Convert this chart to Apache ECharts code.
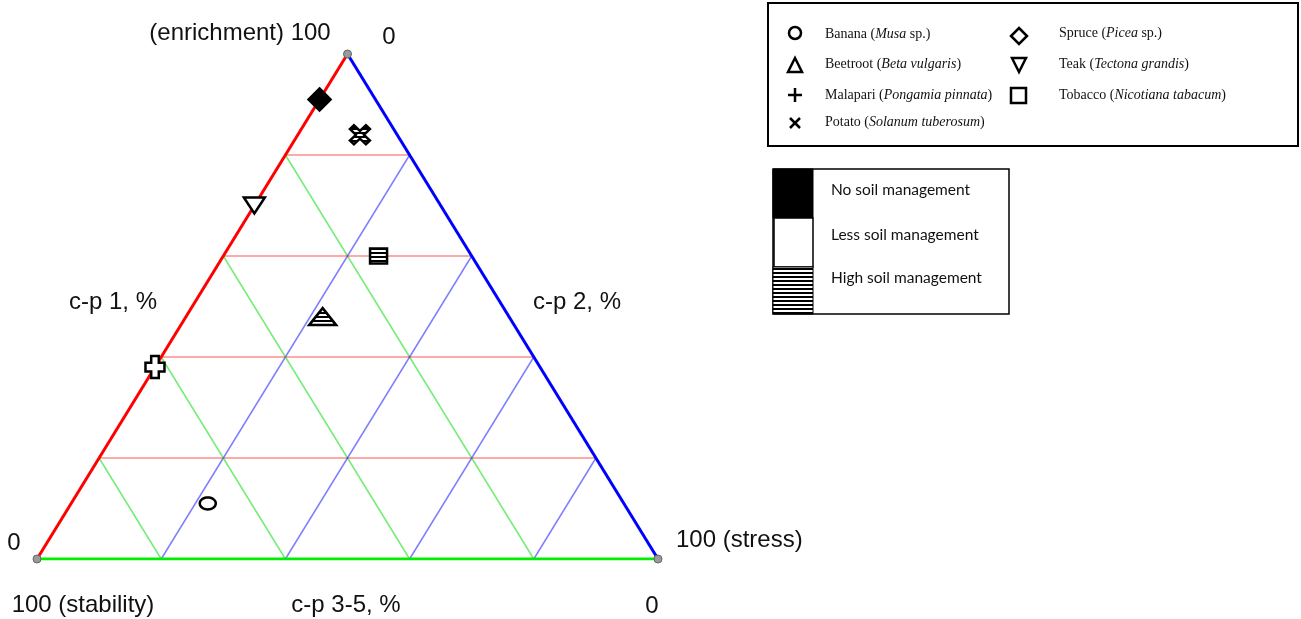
<!DOCTYPE html>
<html>
<head>
<meta charset="utf-8">
<script src="https://cdn.jsdelivr.net/npm/echarts@6/dist/echarts.min.js"></script>
<style>
  html, body { margin: 0; padding: 0; background: #fff; }
  #chart { width: 1301px; height: 619px; }
</style>
</head>
<body>
<div id="chart"></div>
<script>
// Nematode c-p class composition (%) per crop, ternary coordinates
const species    = ['Banana', 'Beetroot', 'Malapari', 'Potato', 'Spruce', 'Teak', 'Tobacco'];
const cp1        = [11, 48, 38, 84, 91, 70, 60];   // enrichment
const cp2        = [22, 22,  0, 10,  0,  0, 25];   // stress
const cp35       = [67, 30, 62,  6,  9, 30, 15];   // stability
const management = ['less', 'high', 'less', 'high', 'none', 'less', 'high'];
const gridTicks  = [20, 40, 60, 80];

// ternary (cp1, cp2) -> plane: stability corner at (0,0), stress corner at (100,0), enrichment apex at (50,100)
function toXY(a, b) { return [b + a / 2, a]; }

// horizontal stripe pattern used for "high soil management"
const stripe = document.createElement('canvas');
stripe.width = 4; stripe.height = 4;
const sctx = stripe.getContext('2d');
sctx.fillStyle = '#fff'; sctx.fillRect(0, 0, 4, 4);
sctx.fillStyle = '#000'; sctx.fillRect(0, 0, 4, 2);
const hatch = { image: stripe, repeat: 'repeat' };

const fills = { none: '#000', less: '#fff', high: hatch };

// marker outlines in unit box (-0.5..0.5), y pointing down
function fromTen(pts) { return pts.map(p => [p[0] / 10 - 0.5, p[1] / 10 - 0.5]); }
const ellipsePts = [];
for (let k = 0; k < 36; k++) {
  const t = k / 36 * Math.PI * 2;
  ellipsePts.push([0.5 * Math.cos(t), 0.5 * Math.sin(t)]);
}
const shapes = {
  Banana:   { pts: ellipsePts, w: 16, h: 12 },
  Beetroot: { pts: [[0, -0.5], [0.5, 0.5], [-0.5, 0.5]], w: 27, h: 17 },
  Malapari: { pts: fromTen([[3, 0], [7, 0], [7, 3], [10, 3], [10, 7], [7, 7], [7, 10], [3, 10], [3, 7], [0, 7], [0, 3], [3, 3]]), w: 19, h: 22 },
  Potato:   { pts: fromTen([[0, 2], [2, 0], [5, 3], [8, 0], [10, 2], [7, 5], [10, 8], [8, 10], [5, 7], [2, 10], [0, 8], [3, 5]]), w: 20, h: 19 },
  Spruce:   { pts: [[0, -0.5], [0.5, 0], [0, 0.5], [-0.5, 0]], w: 22, h: 22 },
  Teak:     { pts: [[-0.5, -0.5], [0.5, -0.5], [0, 0.5]], w: 21, h: 16 },
  Tobacco:  { pts: [[-0.5, -0.5], [0.5, -0.5], [0.5, 0.5], [-0.5, 0.5]], w: 17, h: 15 }
};

const series = [];

function lineSeries(p1, p2, color, width, z) {
  series.push({
    type: 'line', data: [p1, p2], symbol: 'none', silent: true, z: z,
    lineStyle: { color: color, width: width }
  });
}

// interior grid lines
gridTicks.forEach(t => {
  lineSeries(toXY(t, 0), toXY(t, 100 - t), 'rgba(255,0,0,0.45)', 1.5, 1);            // constant c-p 1
  lineSeries(toXY(100 - t, 0), toXY(0, 100 - t), 'rgba(0,220,0,0.55)', 1.5, 1);     // constant c-p 3-5
  lineSeries(toXY(0, t), toXY(100 - t, t), 'rgba(40,40,255,0.6)', 1.5, 1);          // constant c-p 2
});

// triangle edges
lineSeries(toXY(0, 0), toXY(100, 0), '#ff0000', 3, 2);
lineSeries(toXY(100, 0), toXY(0, 100), '#0000ff', 3, 2);
lineSeries(toXY(0, 0), toXY(0, 100), '#00ee00', 3, 2);

// corner dots
series.push({
  type: 'scatter', silent: true, z: 3, symbol: 'circle', symbolSize: 8,
  data: [toXY(100, 0), toXY(0, 0), toXY(0, 100)],
  itemStyle: { color: '#9a9a9a', borderColor: '#666', borderWidth: 1, opacity: 1 }
});

// crop points
series.push({
  type: 'custom', z: 5,
  data: species.map((s, i) => toXY(cp1[i], cp2[i]).concat([cp35[i], i])),
  renderItem: function (params, api) {
    const i = api.value(3);
    const c = api.coord([api.value(0), api.value(1)]);
    const sh = shapes[species[i]];
    return {
      type: 'polygon',
      shape: { points: sh.pts.map(p => [c[0] + p[0] * sh.w, c[1] + p[1] * sh.h]) },
      style: { fill: fills[management[i]], stroke: '#000', lineWidth: 2.5, lineJoin: 'miter' }
    };
  }
});

const sans = '"Liberation Sans", Arial, sans-serif';
function label(text, x, y, align) {
  return { type: 'text', silent: true, style: { text: text, x: x, y: y, fill: '#111',
    font: '24px ' + sans, textAlign: align || 'center', verticalAlign: 'middle' } };
}

const serifRich = {
  n: { fontFamily: '"Liberation Serif", "Times New Roman", serif', fontSize: 14, fill: '#111' },
  i: { fontFamily: '"Liberation Serif", "Times New Roman", serif', fontSize: 14, fontStyle: 'italic', fill: '#111' }
};
function entry(text, x, y) {
  return { type: 'text', silent: true, style: { text: text, x: x, y: y, rich: serifRich,
    textAlign: 'left', verticalAlign: 'middle' } };
}
const blk = { stroke: '#000', lineWidth: 2.5, fill: 'none' };
const key = '15.5px Lato, sans-serif';

const graphic = [
  label('(enrichment) 100', 240, 33),
  label('0', 389, 37),
  label('c-p 1, %', 113, 302),
  label('c-p 2, %', 577, 302),
  label('0', 14, 543),
  label('100 (stress)', 676, 540, 'left'),
  label('100 (stability)', 83, 605),
  label('c-p 3-5, %', 346, 605),
  label('0', 652, 606),

  // species key
  { type: 'rect', silent: true, shape: { x: 768, y: 3, width: 530, height: 143 },
    style: { fill: '#fff', stroke: '#000', lineWidth: 2 } },
  { type: 'circle', silent: true, shape: { cx: 795, cy: 33, r: 6 }, style: blk },
  { type: 'polygon', silent: true, shape: { points: [[788, 72], [802, 72], [795, 58]] }, style: blk },
  { type: 'polyline', silent: true, shape: { points: [[788, 95], [802, 95]] }, style: blk },
  { type: 'polyline', silent: true, shape: { points: [[795, 88], [795, 102]] }, style: blk },
  { type: 'polyline', silent: true, shape: { points: [[790, 118], [800, 128]] }, style: blk },
  { type: 'polyline', silent: true, shape: { points: [[800, 118], [790, 128]] }, style: blk },
  { type: 'polygon', silent: true, shape: { points: [[1019, 28], [1027, 36], [1019, 44], [1011, 36]] }, style: blk },
  { type: 'polygon', silent: true, shape: { points: [[1012, 58], [1026, 58], [1019, 72]] }, style: blk },
  { type: 'rect', silent: true, shape: { x: 1011, y: 88, width: 15, height: 15 }, style: blk },
  entry('{n|Banana (}{i|Musa}{n| sp.)}', 825, 34),
  entry('{n|Beetroot (}{i|Beta vulgaris}{n|)}', 825, 64),
  entry('{n|Malapari (}{i|Pongamia pinnata}{n|)}', 825, 95),
  entry('{n|Potato (}{i|Solanum tuberosum}{n|)}', 825, 122),
  entry('{n|Spruce (}{i|Picea}{n| sp.)}', 1059, 33),
  entry('{n|Teak (}{i|Tectona grandis}{n|)}', 1059, 64),
  entry('{n|Tobacco (}{i|Nicotiana tabacum}{n|)}', 1059, 95),

  // soil management key
  { type: 'rect', silent: true, shape: { x: 773, y: 169, width: 236, height: 145 },
    style: { fill: '#fff', stroke: '#000', lineWidth: 1.5 } },
  { type: 'rect', silent: true, shape: { x: 773, y: 169, width: 40, height: 49 },
    style: { fill: '#000', stroke: '#000', lineWidth: 1 } },
  { type: 'rect', silent: true, shape: { x: 774, y: 218, width: 39, height: 49 },
    style: { fill: '#fff', stroke: '#000', lineWidth: 1.5 } },
  { type: 'rect', silent: true, shape: { x: 773, y: 267, width: 40, height: 47 },
    style: { fill: hatch, stroke: '#000', lineWidth: 1 } },
  { type: 'text', silent: true, style: { text: 'No soil management', x: 831, y: 190,
    font: key, fill: '#111', verticalAlign: 'middle' } },
  { type: 'text', silent: true, style: { text: 'Less soil management', x: 831, y: 235,
    font: key, fill: '#111', verticalAlign: 'middle' } },
  { type: 'text', silent: true, style: { text: 'High soil management', x: 831, y: 278,
    font: key, fill: '#111', verticalAlign: 'middle' } }
];

const chart = echarts.init(document.getElementById('chart'), null, { renderer: 'canvas' });
chart.setOption({
  animation: false,
  backgroundColor: '#fff',
  grid: { left: 37, right: 643, top: 54, bottom: 60 },
  xAxis: { type: 'value', min: 0, max: 100, show: false },
  yAxis: { type: 'value', min: 0, max: 100, show: false },
  series: series,
  graphic: graphic
});
</script>
</body>
</html>
